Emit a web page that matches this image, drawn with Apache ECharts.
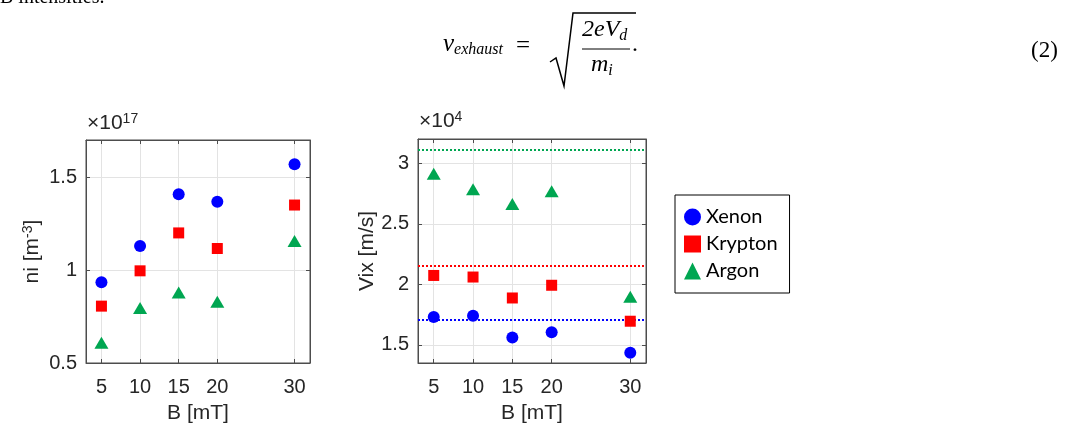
<!DOCTYPE html>
<html>
<head>
<meta charset="utf-8">
<script src="https://cdn.jsdelivr.net/npm/echarts@6/dist/echarts.min.js"></script>
<style>
  html, body { margin: 0; padding: 0; background: #fff; }
  #chart { width: 1072px; height: 429px; }
</style>
</head>
<body>
<div id="chart"></div>
<script>
// B field values (mT)
const bField = [5, 10, 15, 20, 30];

// ion density, units of 1e17 m^-3
const niXenon = [0.935, 1.13, 1.408, 1.368, 1.569];
const niKrypton = [0.806, 0.996, 1.2, 1.116, 1.35];
const niArgon = [0.609, 0.796, 0.879, 0.829, 1.157];

// axial ion velocity, units of 1e4 m/s
const vixXenon = [1.73, 1.741, 1.56, 1.603, 1.435];
const vixKrypton = [2.073, 2.06, 1.887, 1.992, 1.695];
const vixArgon = [2.914, 2.785, 2.663, 2.768, 1.897];

// dotted reference levels (xenon, krypton, argon)
const vixRef = [1.714, 2.149, 3.106];

const xTicks = [5, 10, 15, 20, 30];
const niTicks = [0.5, 1, 1.5];
const vixTicks = [1.5, 2, 2.5, 3];

const gasNames = ['Xenon', 'Krypton', 'Argon'];
const gasColors = ['#0000ff', '#ff0000', '#00a651'];
const gasSymbols = ['circle', 'rect', 'triangle'];
const gasSizes = [12, 11, [14, 12]];

const axisColor = '#4d4d4d';
const textColor = '#262626';
const gridColor = '#e3e3e3';

function pairs(ys) {
    return bField.map((b, i) => [b, ys[i]]);
}

function xAxes(gridIndex) {
    return [
        {
            type: 'value', gridIndex, position: 'bottom', min: 3, max: 32,
            axisLine: { show: true, lineStyle: { color: axisColor } },
            axisTick: { show: true, inside: true, length: 4, customValues: xTicks, lineStyle: { color: axisColor } },
            axisLabel: { customValues: xTicks, color: textColor, fontSize: 20, fontFamily: 'Liberation Sans', margin: 14 },
            splitLine: { show: true, lineStyle: { color: gridColor } },
            name: 'B [mT]', nameLocation: 'middle', nameGap: 40,
            nameTextStyle: { color: textColor, fontSize: 21, fontFamily: 'Liberation Sans' }
        },
        {
            type: 'value', gridIndex, position: 'top', min: 3, max: 32,
            axisLine: { show: true, lineStyle: { color: axisColor } },
            axisTick: { show: true, inside: true, length: 4, customValues: xTicks, lineStyle: { color: axisColor } },
            axisLabel: { show: false },
            splitLine: { show: false }
        }
    ];
}

function yAxes(gridIndex, min, max, ticks, name, gap) {
    return [
        {
            type: 'value', gridIndex, position: 'left', min, max,
            axisLine: { show: true, lineStyle: { color: axisColor } },
            axisTick: { show: true, inside: true, length: 4, customValues: ticks, lineStyle: { color: axisColor } },
            axisLabel: { customValues: ticks, color: textColor, fontSize: 20, fontFamily: 'Liberation Sans', margin: 9 },
            splitLine: { show: true, lineStyle: { color: gridColor } },
            name, nameLocation: 'middle', nameGap: gap, nameRotate: 90,
            nameTextStyle: {
                color: textColor, fontSize: 21, fontFamily: 'Liberation Sans',
                rich: { sup: { fontSize: 14, verticalAlign: 'top', color: textColor, fontFamily: 'Liberation Sans', padding: [0, 0, 9, 0] } }
            }
        },
        {
            type: 'value', gridIndex, position: 'right', min, max,
            axisLine: { show: true, lineStyle: { color: axisColor } },
            axisTick: { show: true, inside: true, length: 4, customValues: ticks, lineStyle: { color: axisColor } },
            axisLabel: { show: false },
            splitLine: { show: false }
        }
    ];
}

const niData = [niXenon, niKrypton, niArgon];
const vixData = [vixXenon, vixKrypton, vixArgon];

const series = [];
gasNames.forEach((name, i) => {
    series.push({
        name, type: 'scatter', xAxisIndex: 0, yAxisIndex: 0,
        symbol: gasSymbols[i], symbolSize: gasSizes[i],
        itemStyle: { color: gasColors[i], opacity: 1 },
        data: pairs(niData[i]), z: 5
    });
});
gasNames.forEach((name, i) => {
    series.push({
        name, type: 'scatter', xAxisIndex: 2, yAxisIndex: 2,
        symbol: gasSymbols[i], symbolSize: gasSizes[i],
        itemStyle: { color: gasColors[i], opacity: 1 },
        data: pairs(vixData[i]), z: 5,
        markLine: {
            silent: true, symbol: 'none', animation: false,
            label: { show: false },
            lineStyle: { color: gasColors[i], type: [2, 2], width: 2 },
            data: [{ yAxis: vixRef[i] }]
        }
    });
});

const chart = echarts.init(document.getElementById('chart'));

chart.setOption({
    backgroundColor: '#fff',
    animation: false,
    grid: [
        { left: 86, top: 140, width: 224, height: 227, show: true, borderColor: axisColor, borderWidth: 1 },
        { left: 418, top: 139, width: 228, height: 228, show: true, borderColor: axisColor, borderWidth: 1 }
    ],
    xAxis: [...xAxes(0), ...xAxes(1)],
    yAxis: [
        ...yAxes(0, 0.5, 1.7, niTicks, 'ni [m{sup|-3}]', 42),
        ...yAxes(1, 1.35, 3.2, vixTicks, 'Vix [m/s]', 39)
    ],
    legend: {
        left: 675, top: 195, width: 115,
        orient: 'vertical',
        itemGap: 7, itemWidth: 17, itemHeight: 17,
        padding: [12, 12, 12, 9],
        borderColor: '#000', borderWidth: 1,
        textStyle: { color: '#000', fontSize: 20, fontFamily: 'Lato' },
        data: gasNames.map((name, i) => ({ name, icon: gasSymbols[i] }))
    },
    series,
    graphic: [
        {
            type: 'text', left: 0, top: -12,
            style: { text: 'B intensities.', font: '20px "Liberation Serif"', fill: '#000' }
        },
        {
            type: 'text', left: 87, top: 112,
            style: {
                text: '×10{s|17}', fill: textColor,
                font: '21px "Liberation Sans"',
                rich: { s: { fontSize: 14, verticalAlign: 'top', fill: textColor, padding: [0, 0, 9, 0] } }
            }
        },
        {
            type: 'text', left: 419, top: 110,
            style: {
                text: '×10{s|4}', fill: textColor,
                font: '21px "Liberation Sans"',
                rich: { s: { fontSize: 14, verticalAlign: 'top', fill: textColor, padding: [0, 0, 9, 0] } }
            }
        },
        // equation (2)
        {
            type: 'text', left: 443, top: 32,
            style: {
                text: '{v|v}{s|exhaust}', fill: '#000',
                rich: {
                    v: { font: 'italic 25px "Liberation Serif"', fill: '#000' },
                    s: { font: 'italic 16px "Liberation Serif"', fill: '#000', padding: [10, 0, 0, 0] }
                }
            }
        },
        {
            type: 'text', left: 516, top: 34,
            style: { text: '=', font: '25px "Liberation Serif"', fill: '#000' }
        },
        {
            type: 'polyline',
            shape: { points: [[550, 62], [556, 58], [564, 86], [573, 13], [636, 13]] },
            style: { stroke: '#000', lineWidth: 1.5, fill: null }
        },
        {
            type: 'text', left: 582, top: 18,
            style: {
                text: '{a|2eV}{s|d}', fill: '#000',
                rich: {
                    a: { font: 'italic 24px "Liberation Serif"', fill: '#000' },
                    s: { font: 'italic 16px "Liberation Serif"', fill: '#000', padding: [11, 0, 0, 0] }
                }
            }
        },
        {
            type: 'line',
            shape: { x1: 582, y1: 49, x2: 630, y2: 49 },
            style: { stroke: '#000', lineWidth: 1 }
        },
        {
            type: 'text', left: 591, top: 53,
            style: {
                text: '{a|m}{s|i}', fill: '#000',
                rich: {
                    a: { font: 'italic 24px "Liberation Serif"', fill: '#000' },
                    s: { font: 'italic 16px "Liberation Serif"', fill: '#000', padding: [11, 0, 0, 0] }
                }
            }
        },
        {
            type: 'text', left: 632, top: 33,
            style: { text: '.', font: '24px "Liberation Serif"', fill: '#000' }
        },
        {
            type: 'text', left: 1031, top: 39,
            style: { text: '(2)', font: '23px "Liberation Serif"', fill: '#000' }
        }
    ]
});
</script>
</body>
</html>
